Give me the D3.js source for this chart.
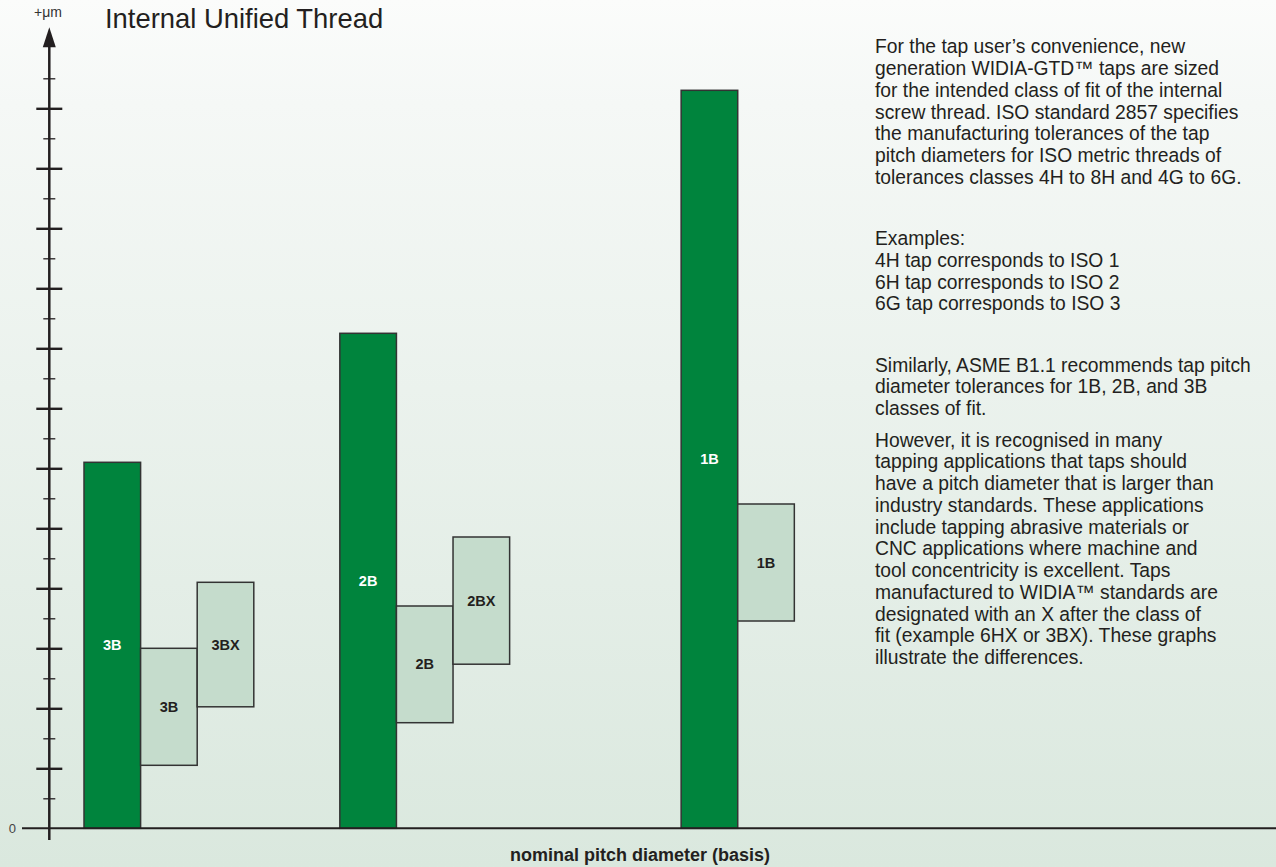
<!DOCTYPE html>
<html>
<head>
<meta charset="utf-8">
<script src="https://cdn.jsdelivr.net/npm/d3@7"></script>
<style>
  html, body { margin: 0; padding: 0; background: #ffffff; }
  svg { display: block; }
</style>
</head>
<body>
<script>
// ---------- data ----------
const groups = ["3B", "2B", "1B"];
const groupSlot = [0, 4.52, 10.55];           // position of each group on the basis axis (bar-width units)
const standardTop = [12.2, 16.5, 24.6];      // dark green: industry standard (from 0)
const tapLow  = [2.1, 3.52, 6.91];           // light: tap tolerance band
const tapHigh = [6.0, 7.41, 10.81];
const xClasses = ["3BX", "2BX"];             // WIDIA X classes
const xLow  = [4.05, 5.47];
const xHigh = [8.2, 9.71];
const majorTicks = [2, 4, 6, 8, 10, 12, 14, 16, 18, 20, 22, 24];
const minorTicks = [1, 3, 5, 7, 9, 11, 13, 15, 17, 19, 21, 23, 25];
const title = "Internal Unified Thread";
const unitLabel = "+\u03bcm";
const xLabel = "nominal pitch diameter (basis)";
const para1 = [
  "For the tap user\u2019s convenience, new",
  "generation WIDIA-GTD\u2122 taps are sized",
  "for the intended class of fit of the internal",
  "screw thread. ISO standard 2857 specifies",
  "the manufacturing tolerances of the tap",
  "pitch diameters for ISO metric threads of",
  "tolerances classes 4H to 8H and 4G to 6G."
];
const para2 = [
  "Examples:",
  "4H tap corresponds to ISO 1",
  "6H tap corresponds to ISO 2",
  "6G tap corresponds to ISO 3"
];
const para3 = [
  "Similarly, ASME B1.1 recommends tap pitch",
  "diameter tolerances for 1B, 2B, and 3B",
  "classes of fit."
];
const para4 = [
  "However, it is recognised in many",
  "tapping applications that taps should",
  "have a pitch diameter that is larger than",
  "industry standards. These applications",
  "include tapping abrasive materials or",
  "CNC applications where machine and",
  "tool concentricity is excellent. Taps",
  "manufactured to WIDIA\u2122 standards are",
  "designated with an X after the class of",
  "fit (example 6HX or 3BX). These graphs",
  "illustrate the differences."
];

// ---------- setup ----------
const W = 1276, H = 867;
const svg = d3.select("body").append("svg").attr("width", W).attr("height", H);

const defs = svg.append("defs");
const grad = defs.append("linearGradient").attr("id", "bg").attr("x1", 0).attr("y1", 0).attr("x2", 0).attr("y2", 1);
grad.append("stop").attr("offset", "0").attr("stop-color", "#fbfcfb");
grad.append("stop").attr("offset", "0.12").attr("stop-color", "#f5f8f6");
grad.append("stop").attr("offset", "1").attr("stop-color", "#dae8de");
svg.append("rect").attr("width", W).attr("height", H).attr("fill", "url(#bg)");

const axisX = 49.3;
const y = d3.scaleLinear().domain([0, 25]).range([828.3, 78.3]);
const x = d3.scaleLinear().domain([0, 12]).range([84, 84 + 12 * 56.6]);
const bw = x(1) - x(0);

const dark = "#231f20";
const stroke = "#333333";
const green = "#00843d";
const light = "#c5dccc";
const labelFont = "'Liberation Sans Narrow', 'Arial Narrow', 'Liberation Sans', Arial, sans-serif";
const bodyFont = "'Liberation Sans', Arial, Helvetica, sans-serif";

// ---------- bars ----------
const g = svg.append("g");

function bar(x0, v0, v1, fill) {
  g.append("rect")
    .attr("x", x(x0)).attr("width", bw)
    .attr("y", y(v1)).attr("height", y(v0) - y(v1))
    .attr("fill", fill).attr("stroke", stroke).attr("stroke-width", 1.5);
}
function barLabel(x0, v0, v1, text, color) {
  g.append("text")
    .attr("x", x(x0) + bw / 2)
    .attr("y", (y(v0) + y(v1)) / 2 + 5)
    .attr("text-anchor", "middle")
    .attr("font-family", labelFont)
    .attr("font-weight", "bold")
    .attr("font-size", 14.5)
    .attr("fill", color)
    .text(text);
}

groups.forEach((name, i) => {
  const s = groupSlot[i];
  bar(s, 0, standardTop[i], green);
  bar(s + 1, tapLow[i], tapHigh[i], light);
  if (i < xClasses.length) bar(s + 2, xLow[i], xHigh[i], light);
});
groups.forEach((name, i) => {
  const s = groupSlot[i];
  barLabel(s, 0, standardTop[i], name, "#ffffff");
  barLabel(s + 1, tapLow[i], tapHigh[i], name, dark);
  if (i < xClasses.length) barLabel(s + 2, xLow[i], xHigh[i], xClasses[i], dark);
});

// ---------- axes ----------
svg.append("line")
  .attr("x1", 22).attr("x2", W)
  .attr("y1", y(0)).attr("y2", y(0))
  .attr("stroke", dark).attr("stroke-width", 2);

const arrowTipV = 26.7;
svg.append("line")
  .attr("x1", axisX).attr("x2", axisX)
  .attr("y1", 840).attr("y2", y(arrowTipV) + 15)
  .attr("stroke", dark).attr("stroke-width", 2.5);

const tipY = y(arrowTipV);
svg.append("path")
  .attr("d", `M${axisX},${tipY} L${axisX - 6.5},${tipY + 20} L${axisX + 6.5},${tipY + 20} Z`)
  .attr("fill", dark);

const majorAxis = d3.axisRight(y).tickValues(majorTicks).tickSize(26).tickFormat("");
const gMaj = svg.append("g").attr("transform", `translate(${axisX - 13},0)`).call(majorAxis);
gMaj.select(".domain").remove();
gMaj.selectAll(".tick line").attr("stroke", dark).attr("stroke-width", 2.4);

const minorAxis = d3.axisRight(y).tickValues(minorTicks).tickSize(12).tickFormat("");
const gMin = svg.append("g").attr("transform", `translate(${axisX - 6},0)`).call(minorAxis);
gMin.select(".domain").remove();
gMin.selectAll(".tick line").attr("stroke", dark).attr("stroke-width", 1.3);

svg.append("text")
  .attr("x", 16).attr("y", y(0) + 5)
  .attr("text-anchor", "end")
  .attr("font-family", bodyFont).attr("font-size", 13)
  .attr("fill", "#444").text("0");

svg.append("text")
  .attr("x", 34).attr("y", 17)
  .attr("font-family", bodyFont).attr("font-size", 14)
  .attr("fill", "#333").text(unitLabel);

svg.append("text")
  .attr("x", 105).attr("y", 28.3)
  .attr("font-family", bodyFont).attr("font-size", 27.4)
  .attr("fill", dark).text(title);

svg.append("text")
  .attr("x", 510).attr("y", 861)
  .attr("font-family", bodyFont).attr("font-weight", "bold").attr("font-size", 18)
  .attr("fill", dark).text(xLabel);

// ---------- text block ----------
const tx = 875, lh = 21.75;
function para(lines, y0) {
  const t = svg.append("text")
    .attr("font-family", bodyFont).attr("font-size", 19.3)
    .attr("fill", dark);
  lines.forEach((l, i) => {
    t.append("tspan").attr("x", tx).attr("y", y0 + i * lh).text(l);
  });
}
para(para1, 53.3);
para(para2, 245);
para(para3, 371.7);
para(para4, 446.7);
</script>
</body>
</html>
